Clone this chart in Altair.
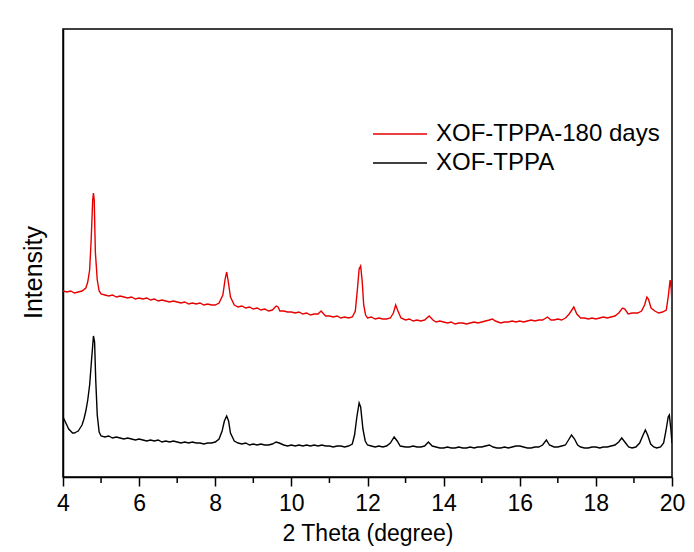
import altair as alt
import pandas as pd

# 2-theta positions and intensities (a.u.)
red_x = [4.0, 4.1, 4.2, 4.3, 4.4, 4.5, 4.6, 4.65, 4.7, 4.74, 4.78, 4.8, 4.82, 4.85, 4.9, 4.95,
         5.0, 5.1, 5.2, 5.3, 5.4, 5.5, 5.6, 5.7, 5.8, 5.9, 6.0, 6.1, 6.2, 6.3, 6.4, 6.5, 6.6, 6.7,
         6.8, 6.9, 7.0, 7.1, 7.2, 7.3, 7.4, 7.5, 7.6, 7.7, 7.8, 7.9, 8.0, 8.1, 8.2, 8.26, 8.3, 8.34,
         8.4, 8.5, 8.6, 8.7, 8.8, 8.9, 9.0, 9.1, 9.2, 9.3, 9.4, 9.5, 9.6, 9.65, 9.7, 9.8, 9.9, 10.0,
         10.1, 10.2, 10.3, 10.4, 10.5, 10.6, 10.7, 10.78, 10.85, 10.9, 11.0, 11.1, 11.2, 11.3, 11.4,
         11.5, 11.6, 11.68, 11.74, 11.78, 11.82, 11.86, 11.9, 11.95, 12.0, 12.1, 12.2, 12.3, 12.4,
         12.5, 12.6, 12.68, 12.74, 12.8, 12.88, 13.0, 13.1, 13.2, 13.3, 13.4, 13.5, 13.62, 13.72,
         13.8, 13.9, 14.0, 14.1, 14.2, 14.3, 14.4, 14.5, 14.6, 14.7, 14.8, 14.9, 15.0, 15.1, 15.2,
         15.28, 15.36, 15.5, 15.6, 15.7, 15.8, 15.9, 16.0, 16.1, 16.2, 16.3, 16.4, 16.5, 16.6, 16.73,
         16.82, 16.9, 17.0, 17.1, 17.2, 17.3, 17.42, 17.5, 17.6, 17.7, 17.8, 17.9, 18.0, 18.1, 18.2,
         18.3, 18.4, 18.5, 18.6, 18.7, 18.76, 18.85, 18.95, 19.0, 19.1, 19.2, 19.28, 19.34, 19.38,
         19.45, 19.55, 19.65, 19.75, 19.85, 19.9, 19.95, 19.98, 20.0]
red_y = [186, 185, 186, 184, 185, 186, 189, 195, 207, 237, 277, 284, 277, 225, 197, 186,
         183, 182, 181, 182, 180, 181, 180, 179, 180, 178, 179, 178, 179, 177, 178, 176, 177, 176,
         175, 176, 175, 174, 175, 173, 174, 173, 174, 172, 173, 172, 172, 174, 182, 198, 205, 196,
         180, 172, 170, 171, 169, 170, 168, 169, 167, 168, 166, 167, 171, 170, 166, 166, 165, 165,
         164, 165, 163, 164, 162, 163, 163, 166, 163, 161, 161, 160, 161, 159, 160,
         159, 160, 166, 190, 208, 211, 196, 172, 162, 159, 160, 158, 159, 158,
         158, 159, 164, 172, 166, 159, 157, 158, 156, 157, 156, 157, 161, 157,
         155, 156, 155, 154, 155, 153, 154, 154, 153, 154, 155, 154, 155, 156, 157,
         158, 156, 154, 155, 155, 156, 155, 156, 155, 156, 157, 156, 157, 157, 160,
         157, 157, 158, 157, 159, 163, 170, 163, 159, 159, 158, 159, 158, 159, 160,
         159, 160, 161, 164, 169, 168, 163, 164, 164, 164, 166, 172, 180, 178,
         169, 166, 164, 165, 167, 180, 197, 188, 174]

black_x = [4.0, 4.05, 4.1, 4.15, 4.2, 4.25, 4.3, 4.35, 4.4, 4.45, 4.5, 4.55, 4.6, 4.65, 4.7, 4.75,
           4.8, 4.83, 4.86, 4.9, 4.95, 5.0, 5.1, 5.2, 5.3, 5.4, 5.5, 5.6, 5.7, 5.8, 5.9, 6.0, 6.1,
           6.2, 6.3, 6.4, 6.5, 6.6, 6.7, 6.8, 6.9, 7.0, 7.1, 7.2, 7.3, 7.4, 7.5, 7.6, 7.7, 7.8, 7.9,
           8.0, 8.1, 8.18, 8.24, 8.3, 8.35, 8.4, 8.5, 8.6, 8.7, 8.8, 8.9, 9.0, 9.1, 9.2, 9.3, 9.4,
           9.5, 9.6, 9.68, 9.8, 9.9, 10.0, 10.1, 10.2, 10.3, 10.4, 10.5, 10.6, 10.7, 10.8, 10.9,
           11.0, 11.1, 11.2, 11.3, 11.4, 11.5, 11.6, 11.66, 11.72, 11.78, 11.82, 11.88, 11.94, 12.0,
           12.1, 12.2, 12.3, 12.4, 12.5, 12.6, 12.7, 12.78, 12.86, 13.0, 13.1, 13.2, 13.3, 13.4,
           13.5, 13.6, 13.7, 13.8, 13.9, 14.0, 14.1, 14.2, 14.3, 14.4, 14.5, 14.6, 14.7, 14.8, 14.9,
           15.0, 15.1, 15.2, 15.3, 15.4, 15.5, 15.6, 15.7, 15.8, 15.9, 16.0, 16.1, 16.2, 16.3, 16.4,
           16.5, 16.6, 16.7, 16.78, 16.9, 17.0, 17.1, 17.2, 17.28, 17.36, 17.44, 17.52, 17.6, 17.7,
           17.8, 17.9, 18.0, 18.1, 18.2, 18.3, 18.4, 18.5, 18.6, 18.68, 18.76, 18.86, 18.95, 19.05,
           19.15, 19.24, 19.3, 19.36, 19.44, 19.52, 19.6, 19.7, 19.78, 19.84, 19.9, 19.93, 19.97, 20.0]
black_y = [60, 56, 52, 48, 46, 44, 44, 45, 46, 49, 52, 58, 66, 77, 92, 117,
           141, 135, 97, 62, 45, 41, 40, 41, 39, 40, 39, 38, 39, 38, 37, 38, 37,
           36, 37, 36, 37, 35, 36, 35, 36, 35, 34, 35, 34, 35, 34, 34, 33, 34, 34,
           35, 38, 46, 56, 61, 56, 44, 36, 34, 33, 34, 32, 33, 32, 33, 32, 32,
           33, 35, 34, 32, 31, 32, 31, 32, 31, 32, 31, 32, 31, 32, 31,
           31, 30, 31, 31, 30, 31, 33, 42, 60, 74, 70, 48, 36, 32,
           31, 30, 31, 30, 31, 34, 40, 36, 31, 30, 30, 31, 30, 30,
           31, 35, 31, 30, 29, 29, 30, 29, 29, 30, 29, 29, 30, 29, 30,
           30, 31, 32, 30, 29, 29, 30, 29, 30, 31, 31, 30, 29, 29, 30,
           30, 32, 37, 32, 30, 30, 31, 32, 37, 42, 38, 32, 30, 29,
           29, 30, 30, 29, 30, 30, 31, 32, 35, 39, 35, 30, 29, 30,
           34, 42, 47, 42, 33, 30, 29, 30, 34, 46, 60, 62, 48, 34]

series_names = ["XOF-TPPA-180 days", "XOF-TPPA"]
series_colors = ["#e60000", "#000000"]
major_ticks = [4, 6, 8, 10, 12, 14, 16, 18, 20]
minor_ticks = [5, 7, 9, 11, 13, 15, 17, 19]

df = pd.concat([
    pd.DataFrame({"theta": red_x, "intensity": red_y, "sample": series_names[0]}),
    pd.DataFrame({"theta": black_x, "intensity": black_y, "sample": series_names[1]}),
])
minor_df = pd.DataFrame({"theta": minor_ticks})

FONT = "Liberation Sans"

xscale = alt.Scale(domain=[4, 20], nice=False, zero=False)

lines = alt.Chart(df).mark_line(strokeWidth=1.4, clip=True).encode(
    x=alt.X("theta:Q", scale=xscale,
            axis=alt.Axis(values=major_ticks, title="2 Theta (degree)", format="d",
                          tickSize=9, tickWidth=1.5, tickColor="black",
                          domainColor="black", domainWidth=1.5,
                          labelFontSize=23, labelColor="black", labelPadding=6,
                          labelFont=FONT, titleFont=FONT, titleFontSize=23,
                          titleFontWeight="normal", titleColor="black", titlePadding=7,
                          grid=False, labelFlush=False)),
    y=alt.Y("intensity:Q", scale=alt.Scale(domain=[0, 448], nice=False),
            axis=alt.Axis(title="Intensity", labels=False, ticks=False, grid=False,
                          domainColor="black", domainWidth=1.5,
                          titleFont=FONT, titleFontSize=25, titleFontWeight="normal",
                          titleColor="black", titleX=-30, titleY=243,
                          titleAlign="center", titleBaseline="middle")),
    color=alt.Color("sample:N",
                    scale=alt.Scale(domain=series_names, range=series_colors),
                    legend=alt.Legend(title=None, orient="none", legendX=325, legendY=93,
                                      symbolType="M-2.7,0H2.7", symbolSize=400,
                                      symbolStrokeWidth=1.5, labelOffset=24,
                                      labelFont=FONT, labelFontSize=24, labelColor="black",
                                      labelLimit=0, rowPadding=5, padding=0)),
    order="theta:Q",
)

minor = alt.Chart(minor_df).mark_rule(strokeWidth=1.5, color="black").encode(
    x=alt.X("theta:Q", scale=xscale),
    y=alt.value(448),
    y2=alt.value(454),
)

chart = alt.layer(lines, minor).properties(
    width=609, height=448,
    background="white",
    autosize=alt.AutoSizeParams(type="none"),
    padding={"left": 63, "top": 29, "right": 22, "bottom": 75},
).configure_view(stroke="black", strokeWidth=1.5)

chart.save("out.html", embed_options={"renderer": "svg", "actions": False})
